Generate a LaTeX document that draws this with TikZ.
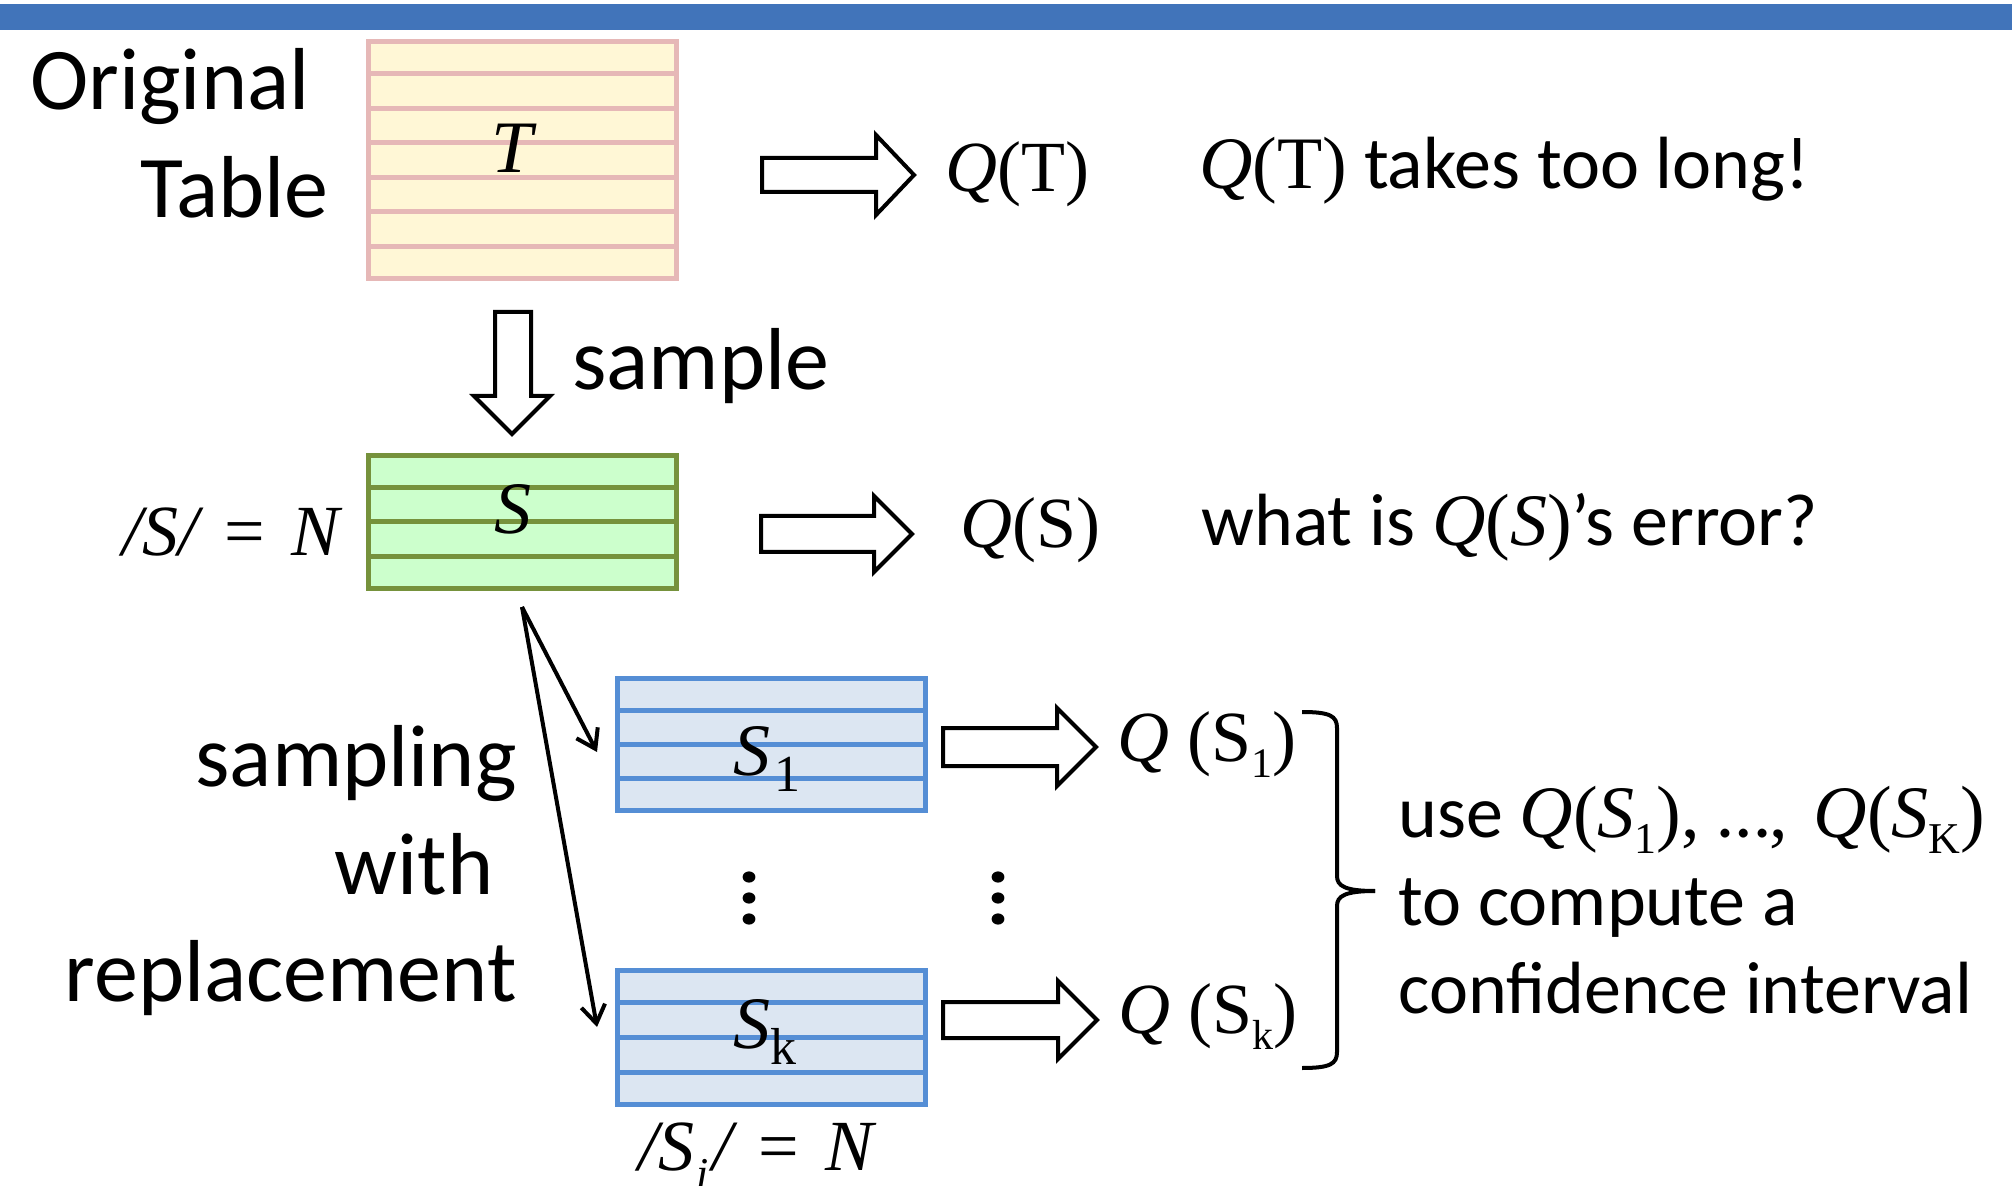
\documentclass[tikz,border=0pt]{standalone}
\usepackage{fontspec}
\usepackage{graphicx}
\setmainfont{Carlito}
\newfontfamily\tms{Liberation Serif}
\usetikzlibrary{arrows.meta,calc}
\definecolor{barblue}{RGB}{65,116,186}
\definecolor{tline}{RGB}{230,184,183}
\definecolor{tfill}{RGB}{255,247,214}
\definecolor{sline}{RGB}{118,146,60}
\definecolor{sfill}{RGB}{204,255,204}
\definecolor{bline}{RGB}{85,142,213}
\definecolor{bfill}{RGB}{220,230,242}
\newcommand\mi[1]{{\tms\itshape #1}}
\newcommand\mr[1]{{\tms\upshape #1}}
\newcommand\msub[3]{\raisebox{#1}{\fontsize{#2}{#2}\selectfont\tms #3}}
\newcommand\blockarrow[6]{%
  \draw[blockar] ({#1},{#3-#4}) -- ({#2-#6},{#3-#4}) -- ({#2-#6},{#3-#5}) -- ({#2},{#3})
    -- ({#2-#6},{#3+#5}) -- ({#2-#6},{#3+#4}) -- ({#1},{#3+#4}) -- cycle;}
\begin{document}
\begin{tikzpicture}[x=0.5pt,y=-0.5pt,
  tabbox/.style={draw, line width=2.5pt, inner sep=0pt, anchor=north west},
  blockar/.style={draw=black, fill=white, line width=2pt, line join=miter},
  txt/.style={inner sep=0pt, anchor=base west},
  big/.style={txt, font=\fontsize{44pt}{48pt}\selectfont},
  small/.style={txt, font=\fontsize{37pt}{40pt}\selectfont},
  mth/.style={inner sep=0pt, anchor=base west, font=\fontsize{36pt}{40pt}\selectfont\tms},
  thin/.style={line width=2pt, -{Straight Barb[length=9pt,width=12pt,line width=2pt]}},
  dot/.style={fill=black}]
\useasboundingbox (0,0) rectangle (2012,1186);
\fill[barblue] (0,4) rectangle (2012,30);

% original table
\node[tabbox, draw=tline, fill=tfill, minimum width=154pt, minimum height=118.5pt] (T) at (366,39) {};
\foreach \i in {1,...,6}
  \draw[tline, line width=2.5pt] ($(T.north west)!\i/7!(T.south west)$) -- ($(T.north east)!\i/7!(T.south east)$);
\node[mth, anchor=base, font=\fontsize{37pt}{40pt}\selectfont\tms\itshape] (Tl) at (512,173) {T};
\node[big] (orig) at (30,110) {Original};
\node[big] (tab) at (140,218) {Table};

\blockarrow{762}{914}{175}{17}{40}{38}
\node[mth] (QT) at (945,192) {\mi{Q}(T)};
\node[small] (QTt) at (1199,189) {\mi{Q}\mr{(T)} takes too long!};

% sample arrow
\draw[blockar] (495,312) -- (531,312) -- (531,396) -- (550,396) -- (512,434) -- (474,396) -- (495,396) -- cycle;
\node[big] (smp) at (572,390) {sample};

% sample table
\node[tabbox, draw=sline, fill=sfill, minimum width=154pt, minimum height=66.5pt] (S) at (366,453) {};
\foreach \i in {1,...,3}
  \draw[sline, line width=2.5pt] ($(S.north west)!\i/4!(S.south west)$) -- ($(S.north east)!\i/4!(S.south east)$);
\node[mth, anchor=base, font=\fontsize{37pt}{40pt}\selectfont\tms\itshape] (Sl) at (513,534) {S};
\node[mth] (SN) at (122,556) {\mi{/S/}\hspace{13pt}=\hspace{13pt}\mi{N}};

\blockarrow{761}{912}{534}{18}{38}{38}
\node[mth] (QS) at (960,548) {\mi{Q}(S)};
\node[small] (QSt) at (1201,546) {what is \mi{Q}\mr{(}\mi{S}\mr{)}’s error?};

% bootstrap samples
\node[tabbox, draw=bline, fill=bfill, minimum width=154pt, minimum height=66pt] (S1) at (615,676) {};
\foreach \i in {1,...,3}
  \draw[bline, line width=2.5pt] ($(S1.north west)!\i/4!(S1.south west)$) -- ($(S1.north east)!\i/4!(S1.south east)$);
\node[tabbox, draw=bline, fill=bfill, minimum width=154pt, minimum height=67pt] (Sk) at (615,968) {};
\foreach \i in {1,...,3}
  \draw[bline, line width=2.5pt] ($(Sk.north west)!\i/4!(Sk.south west)$) -- ($(Sk.north east)!\i/4!(Sk.south east)$);
\node[mth, font=\fontsize{37pt}{40pt}\selectfont\tms] (S1l) at (733,775) {\mi{S}\hspace{2pt}\msub{-8pt}{26pt}{1}};
\node[mth, font=\fontsize{37pt}{40pt}\selectfont\tms] (Skl) at (733,1048) {\mi{S}\msub{-8pt}{26pt}{k}};
\node[mth] (Si) at (638,1170) {\mi{/S}\hspace{1pt}\msub{-9pt}{22pt}{\itshape i}\hspace{2pt}\mi{/}\hspace{13pt}=\hspace{13pt}\mi{N}};

\coordinate (fork) at (522,607);
\coordinate (e1) at (597,752);
\coordinate (e2) at (597,1027);
\draw[thin] (fork) -- (e1);
\draw[thin] (fork) -- (e2);

\node[big, anchor=base east] (w1) at (517,786) {sampling};
\node[big, anchor=base east] (w2) at (494,894) {with};
\node[big, anchor=base east] (w3) at (517,1001) {replacement};

% vertical dots
\foreach \xx in {749,998}
  \foreach \yy in {877,898,919}
    \fill[dot] (\xx,\yy) ellipse [x radius=3.2pt, y radius=2.8pt];

\blockarrow{943}{1096}{747}{19}{39}{39}
\blockarrow{943}{1097}{1020}{18}{39}{39}
\node[mth] (Q1) at (1117,761) {\mi{Q}\ (S\msub{-8pt}{21pt}{1})};
\node[mth] (Qk) at (1118,1033) {\mi{Q}\ (S\msub{-8pt}{21pt}{k})};

% brace
\draw[line width=2pt] (1302,712) .. controls (1330,712) and (1337,716) .. (1337,728) -- (1337,876)
  .. controls (1337,886) and (1345,891) .. (1375,891);
\draw[line width=2pt] (1375,891) .. controls (1345,891) and (1337,896) .. (1337,906) -- (1337,1052)
  .. controls (1337,1064) and (1330,1068) .. (1302,1068);

\node[small] (u1) at (1398,837) {use \mi{Q}\mr{(}\mi{S}\msub{-8pt}{22pt}{1}\mr{),}\hspace{9pt}…\mr{,}\hspace{13pt}\mi{Q}\mr{(}\mi{S}\msub{-8pt}{22pt}{K}\mr{)}};
\node[small] (u2) at (1398,925) {to compute a};
\node[small] (u3) at (1398,1013) {confidence interval};
\end{tikzpicture}
\end{document}
